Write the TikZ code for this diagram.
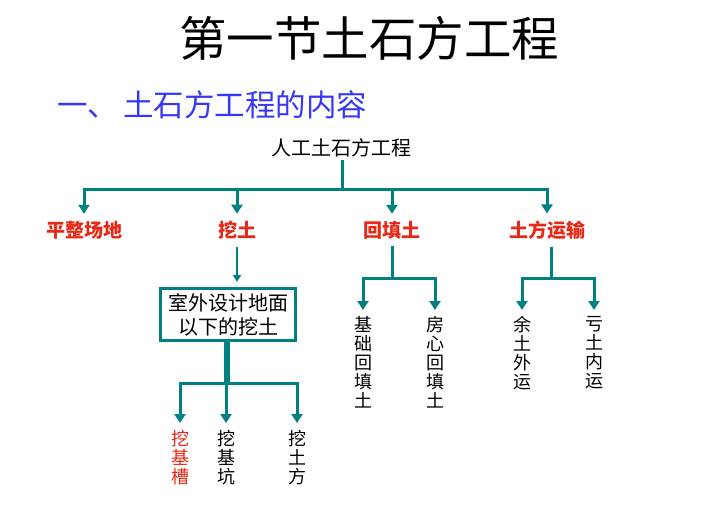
\documentclass[tikz,border=0pt]{standalone}
\usepackage{fontspec}
\setmainfont{Noto Sans CJK SC}
\usetikzlibrary{arrows.meta}
\definecolor{tealc}{RGB}{0,128,128}
\definecolor{redt}{RGB}{232,40,20}
\definecolor{bluet}{RGB}{55,55,250}
\begin{document}
\begin{tikzpicture}[x=1pt,y=-1pt,
  conn/.style={draw=tealc,line width=3pt},
  arr/.style={conn,-{Triangle[width=11pt,length=9pt]}},
  thinarr/.style={draw=tealc,line width=1.8pt,-{Triangle[width=8pt,length=7pt]}},
  lab/.style={inner sep=0pt,font=\fontsize{19}{19}\selectfont\bfseries,text=redt},
  vert/.style={inner sep=0pt,align=center,anchor=north,font=\fontsize{18}{19}\selectfont},
]
\useasboundingbox[fill=white] (0,0) rectangle (713,514);

% titles
\node (title) at (369,38) {\fontsize{47.5}{47.5}\selectfont 第一节土石方工程};
\node[anchor=west,inner sep=0pt,text=bluet] (sub) at (57,105)
  {\fontsize{30.5}{30.5}\selectfont 一、\hspace{5pt}土石方工程的内容};

% root
\node[inner sep=0pt] (root) at (341,148) {\fontsize{20}{20}\selectfont 人工土石方工程};
\coordinate (j0) at (342,189);
\draw[conn] (j0 |- root.south) ++(0,3) -- (j0);

% level 2
\node[lab] (l1) at (84,230) {平整场地};
\node[lab] (l2) at (237,230) {挖土};
\node[lab] (l3) at (392,230) {回填土};
\node[lab] (l4) at (547,230) {土方运输};
\foreach \n in {l1,l2,l3,l4}
  \draw[arr,shorten >=7pt] (j0) -| (\n.north);

% box under 挖土
\node[draw=tealc,line width=3pt,minimum width=135pt,minimum height=52pt,
      align=center,inner sep=0pt,font=\fontsize{20}{24}\selectfont] (box) at (228,314.5)
  {室外设计地面\\以下的挖土};
\draw[thinarr,shorten <=8pt,shorten >=5pt] (l2.south) -- (l2.south |- box.north);

% leaves under box
\coordinate (j2) at (227,383);
\draw[draw=tealc,line width=6pt] (j2 |- box.south) -- (j2);
\node[vert,text=redt] (c1) at (180,430) {挖\\基\\槽};
\node[vert] (c2) at (226,430) {挖\\基\\坑};
\node[vert] (c3) at (297,430) {挖\\土\\方};
\foreach \n in {c1,c2,c3}
  \draw[arr,shorten >=7pt] (j2) -| (\n.north);

% 回填土 branch
\coordinate (j3) at (392,278);
\draw[conn,shorten <=7pt] (j3 |- l3.south) -- (j3);
\node[vert] (f1) at (363,316) {基\\础\\回\\填\\土};
\node[vert] (f2) at (435,316) {房\\心\\回\\填\\土};
\foreach \n in {f1,f2}
  \draw[arr,shorten >=6pt] (j3) -| (\n.north);

% 土方运输 branch
\coordinate (j4) at (551,278);
\draw[conn,shorten <=7pt] (j4 |- l4.south) -- (j4);
\node[vert] (t1) at (522,316) {余\\土\\外\\运};
\node[vert] (t2) at (594,316) {亏\\土\\内\\运};
\foreach \n in {t1,t2}
  \draw[arr,shorten >=6pt] (j4) -| (\n.north);
\end{tikzpicture}
\end{document}
